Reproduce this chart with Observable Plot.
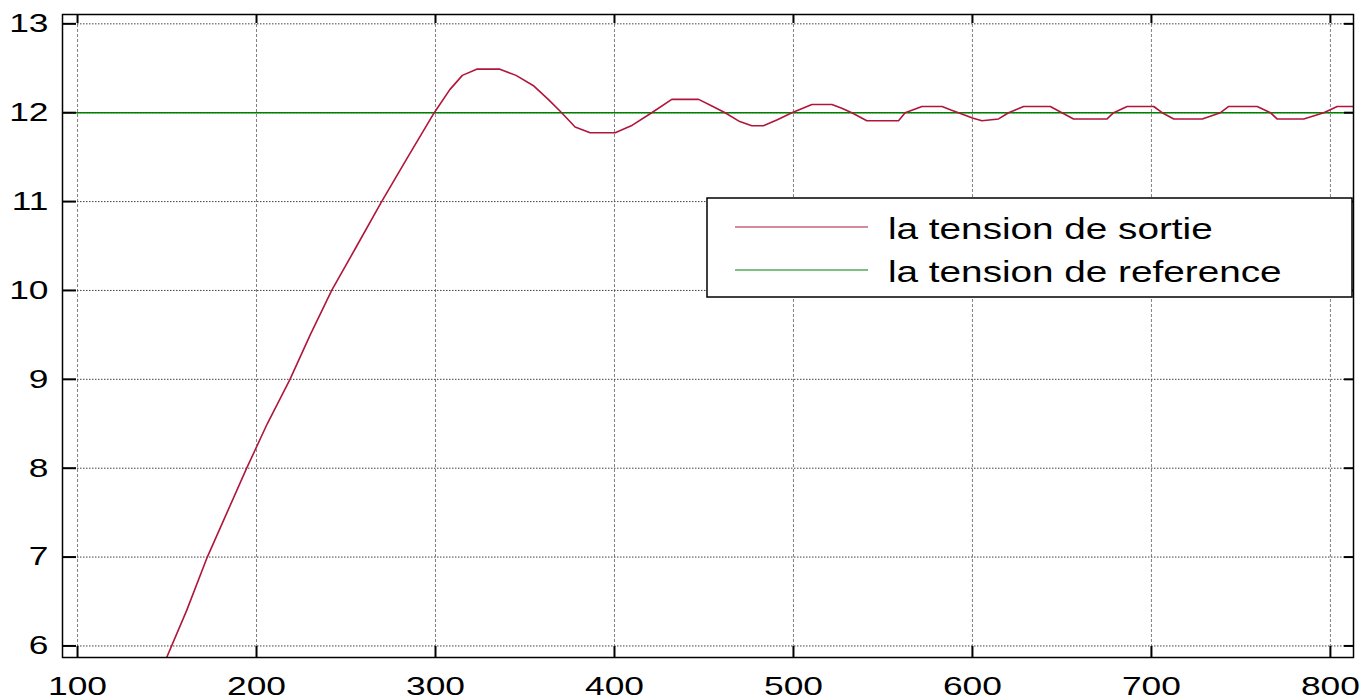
<!DOCTYPE html>
<html><head><meta charset="utf-8">
<script src="https://cdn.jsdelivr.net/npm/d3@7"></script>
<script src="https://cdn.jsdelivr.net/npm/@observablehq/plot@0.6"></script>
<style>
body{margin:0;background:#fff;}
#chart{width:1365px;height:700px;}
</style></head><body><div id="chart"></div>
<script>
// Output voltage ("la tension de sortie")
const sortieX = [149.8,161,172.5,183.5,194.5,206,218.7,230,242,256,269.9,284.5,299.3,308,315,323,336,345,355,363,370.5,378,386.4,400.4,410,420.8,432,447,455,461.8,470,476.7,483.2,491,499.1,510.3,521.5,527,532.6,541,558.7,562.4,571.8,583,588,592.2,600,605.3,614.6,620.2,628.6,643.5,650,656.5,675.2,678.9,686.4,701.3,706,712.5,728.4,738.6,743.2,759.1,766.5,770.2,785.1,796.3,803.8,812.9];
const sortieY = [5.87,6.4,7.0,7.5,8.0,8.5,9.0,9.5,10.0,10.5,11.0,11.5,12.0,12.26,12.42,12.49,12.49,12.42,12.3,12.15,12.0,11.84,11.775,11.775,11.86,12.0,12.15,12.15,12.07,12.0,11.9,11.853,11.853,11.92,12.0,12.092,12.092,12.05,12.0,11.91,11.91,12.0,12.07,12.07,12.03,12.0,11.94,11.91,11.93,12.0,12.07,12.07,12.0,11.93,11.93,12.0,12.07,12.07,12.0,11.93,11.93,12.0,12.07,12.07,12.0,11.93,11.93,12.0,12.07,12.07];
// Reference voltage ("la tension de reference")
const referenceY = [12];
const xTicks = [100,200,300,400,500,600,700,800];
const yTicks = [6,7,8,9,10,11,12,13];
const seriesNames = ["la tension de sortie","la tension de reference"];
const seriesColors = ["#b0163a","#008000"];

const data = sortieX.map((x,i)=>({x, y: sortieY[i]}));
const innerH = 700 - 14 - 43;
const innerW = 1365 - 62 - 12;

const plot = Plot.plot({
  width:1365, height:700,
  marginLeft:62, marginRight:12, marginTop:14, marginBottom:43,
  style:{fontFamily:"'Liberation Sans', Arial, sans-serif", fontSize:"26px", color:"#000", background:"#fff"},
  x:{domain:[91.6,812.9], label:null},
  y:{domain:[5.87,13.105], label:null},
  marks:[
    Plot.gridX(xTicks,{stroke:"#808080", strokeOpacity:1, strokeWidth:1, strokeDasharray:"3,2"}),
    Plot.gridY(yTicks,{stroke:"#404040", strokeOpacity:1, strokeWidth:1, strokeDasharray:"1.5,1.5"}),
    Plot.ruleY(referenceY,{stroke:seriesColors[1], strokeWidth:1.5}),
    Plot.line(data,{x:"x",y:"y",stroke:seriesColors[0],strokeWidth:1.6, clip:true}),
    Plot.ruleX(xTicks,{x:d=>d, stroke:"#000", strokeWidth:2, insetTop:innerH-11}),
    Plot.ruleX(xTicks,{x:d=>d, stroke:"#000", strokeWidth:2, insetBottom:innerH-9}),
    Plot.ruleY(yTicks,{y:d=>d, stroke:"#000", strokeWidth:2, insetRight:innerW-14}),
    Plot.ruleY(yTicks,{y:d=>d, stroke:"#000", strokeWidth:2, insetLeft:innerW-9}),
    Plot.axisX(xTicks,{anchor:"bottom", tickSize:0, tickPadding:19, fontSize:26, tickFormat:d=>String(d)}),
    Plot.axisY(yTicks,{anchor:"left", tickSize:0, tickPadding:14, fontSize:26, tickFormat:d=>String(d)}),
    Plot.frame({stroke:"#000", strokeWidth:1.5})
  ]
});
document.getElementById("chart").appendChild(plot);

// stretch tick labels horizontally like the reference
d3.select(plot).selectAll("g[aria-label$='tick label'] text").each(function(){
  const t = this.getAttribute("transform") || "";
  this.setAttribute("transform", t + " scale(1.36,1)");
});

// legend box
const svg = d3.select(plot);
const lg = svg.append("g").attr("text-anchor","start");
lg.append("rect").attr("x",707).attr("y",198).attr("width",645).attr("height",99)
  .attr("fill","#fff").attr("stroke","#000").attr("stroke-width",1.5);
seriesNames.forEach((name,i)=>{
  const yy = 227 + i*43;
  lg.append("line").attr("x1",735).attr("x2",868).attr("y1",yy).attr("y2",yy)
    .attr("stroke",seriesColors[i]).attr("stroke-width",1.2);
  lg.append("text").attr("x",0).attr("y",0).attr("text-anchor","start")
    .attr("transform",`translate(888,${yy+12}) scale(1.29,1)`)
    .attr("font-size",30).attr("fill","#000").text(name);
});
</script></body></html>
